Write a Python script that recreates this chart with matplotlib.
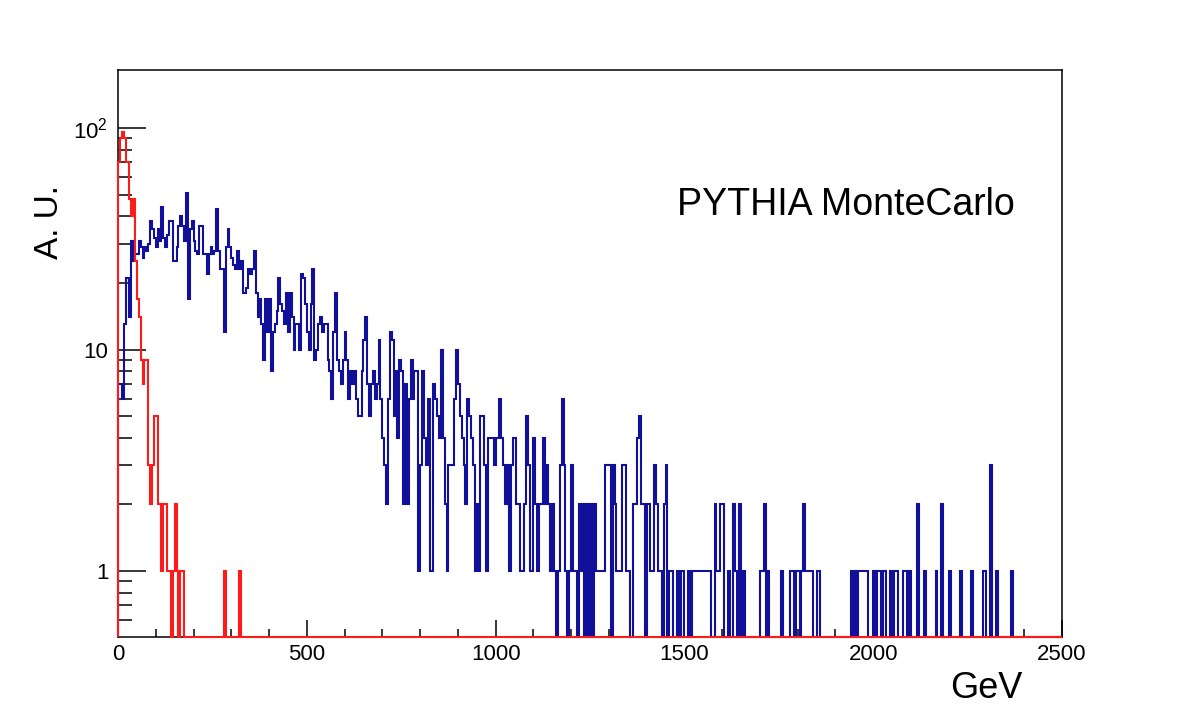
import numpy as np
import matplotlib
matplotlib.use('Agg')
import matplotlib.pyplot as plt
from matplotlib.ticker import FixedLocator, FixedFormatter, NullFormatter

# ROOT 风格: Helvetica 类字体
plt.rcParams['font.family'] = ['Liberation Sans', 'DejaVu Sans']
plt.rcParams['mathtext.fontset'] = 'custom'
plt.rcParams['mathtext.rm'] = 'Liberation Sans'

# 直方图: 0 ~ 2500 GeV, 500 个 bin (每个 5 GeV)
x_min, x_max, n_bins = 0, 2500, 500

# 红色直方图 (从 0 GeV 开始的计数, 之后全为 0)
red_counts = [70, 90, 96, 90, 70, 70, 48, 40, 48, 25,
              17, 14, 9, 7, 9, 9, 3, 2, 3, 5,
              5, 2, 2, 1, 2, 2, 1, 1, 0, 1,
              2, 1, 0, 1, 1, 0, 0, 0, 0, 0,
              0, 0, 0, 0, 0, 0, 0, 0, 0, 0,
              0, 0, 0, 0, 0, 0, 1, 0, 0, 0,
              0, 0, 0, 0, 1]

# 蓝色直方图 (不足 500 个 bin 的部分补 0)
blue_counts = [
    7, 7, 6, 13, 21, 21, 14, 31, 25, 27, 27, 31, 29, 26, 29, 28, 30, 38, 35, 32, 29, 35, 31, 44, 32,
    29, 33, 38, 38, 25, 25, 29, 36, 40, 36, 31, 51, 17, 35, 38, 31, 28, 27, 36, 36, 27, 27, 22, 27, 29,
    27, 28, 43, 28, 23, 23, 12, 29, 35, 29, 26, 24, 23, 28, 23, 25, 18, 18, 19, 23, 22, 23, 28, 18, 14,
    17, 13, 9, 17, 12, 17, 8, 12, 13, 15, 21, 16, 15, 13, 18, 12, 18, 14, 10, 13, 13, 10, 22, 21, 16,
    12, 10, 16, 23, 9, 10, 13, 14, 12, 13, 13, 9, 8, 6, 12, 18, 9, 8, 7, 9, 12, 9, 6, 8, 7,
    8, 6, 5, 5, 8, 11, 14, 7, 5, 7, 8, 6, 7, 11, 6, 4, 3, 2, 6, 12, 11, 5, 8, 4, 9,
    8, 2, 7, 2, 6, 9, 6, 8, 8, 1, 3, 8, 4, 3, 6, 1, 1, 7, 6, 5, 4, 10, 4, 2, 1,
    3, 3, 3, 6, 10, 7, 5, 4, 3, 2, 6, 5, 4, 3, 1, 2, 1, 5, 5, 3, 1, 4, 4, 4, 3,
    4, 4, 6, 4, 3, 2, 3, 1, 3, 4, 4, 2, 2, 1, 1, 2, 5, 3, 1, 1, 4, 2, 1, 2, 2,
    4, 2, 3, 2, 1, 2, 1, 0, 1, 3, 6, 3, 1, 0, 1, 3, 1, 1, 0, 2, 1, 2, 0, 2, 0,
    2, 0, 2, 1, 1, 1, 1, 1, 3, 3, 3, 0, 3, 2, 1, 1, 1, 3, 3, 1, 1, 0, 0, 2, 2,
    4, 5, 2, 2, 0, 2, 2, 1, 1, 3, 2, 1, 1, 0, 2, 3, 0, 1, 1, 0, 0, 1, 0, 1, 1,
    0, 0, 1, 0, 1, 1, 1, 1, 1, 1, 1, 1, 1, 1, 0, 0, 2, 1, 1, 2, 2, 0, 0, 1, 0,
    0, 2, 1, 0, 2, 0, 1, 0, 0, 0, 0, 0, 0, 0, 0, 1, 1, 2, 0, 1, 0, 0, 0, 0, 0,
    0, 1, 0, 0, 0, 0, 1, 1, 0, 1, 1, 0, 1, 2, 1, 1, 1, 1, 0, 0, 1, 1, 0, 0, 0,
    0, 0, 0, 0, 0, 0, 0, 0, 0, 0, 0, 0, 0, 1, 0, 1, 0, 1, 1, 1, 1, 1, 0,
    0, 0, 1, 0, 1, 1, 0, 1, 1, 0, 0, 1, 0, 1, 1, 0, 0, 0, 1, 1, 0, 1, 0,
    0, 0, 2, 0, 0, 0, 1, 0, 0, 0, 0, 0, 1, 0, 0, 2, 0, 0, 0, 1, 0, 0, 0, 0, 0,
    1, 0, 0, 0, 0, 0, 1, 0, 0, 0, 0, 0, 1, 1, 0, 0, 3, 0, 0, 1, 0, 0, 0, 0, 0,
    0, 0, 1,
]

x_ticks = [0, 500, 1000, 1500, 2000, 2500]
x_tick_labels = ['0', '500', '1000', '1500', '2000', '2500']
y_ticks = [1, 10, 100]
y_tick_labels = ['1', '10', r'$\mathregular{10^{2}}$']

y_lo, y_hi = 0.504, 183

fig = plt.figure(figsize=(11.82, 7.09), dpi=100)
ax = fig.add_axes([118 / 1182, 1 - 637 / 709, 944 / 1182, 567 / 709])

edges = np.linspace(x_min, x_max, n_bins + 1)
blue = np.zeros(n_bins)
blue[:len(blue_counts)] = blue_counts
red = np.zeros(n_bins)
red[:len(red_counts)] = red_counts

# 空 bin 画在坐标下沿 (和 ROOT 一样)
blue_draw = np.where(blue > 0, blue, y_lo)
red_draw = np.where(red > 0, red, y_lo)

ax.stairs(blue_draw, edges, baseline=y_lo, color='#10109a', lw=1.5, clip_on=False, zorder=3)
ax.stairs(red_draw, edges, baseline=y_lo, color='#ff1a1a', lw=1.5, clip_on=False, zorder=4)

ax.set_yscale('log')
ax.set_xlim(x_min, x_max)
ax.set_ylim(y_lo, y_hi)

ax.yaxis.set_major_locator(FixedLocator(y_ticks))
ax.yaxis.set_major_formatter(FixedFormatter(y_tick_labels))
y_minor = [0.6, 0.7, 0.8, 0.9] + [i for i in range(2, 10)] + [10 * i for i in range(2, 10)]
ax.yaxis.set_minor_locator(FixedLocator(y_minor))
ax.yaxis.set_minor_formatter(NullFormatter())

ax.xaxis.set_major_locator(FixedLocator(x_ticks))
ax.xaxis.set_major_formatter(FixedFormatter(x_tick_labels))
ax.xaxis.set_minor_locator(FixedLocator(list(range(0, 2501, 100))))

ax.tick_params(which='both', direction='in', top=False, right=False, color='black')
ax.tick_params(axis='y', which='major', length=20, width=1.1, labelsize=16, pad=7)
ax.tick_params(axis='y', which='minor', length=10, width=1.1)
ax.tick_params(axis='x', which='major', length=12, width=1.1, labelsize=16, pad=5)
ax.tick_params(axis='x', which='minor', length=6, width=1.1)
for s in ax.spines.values():
    s.set_linewidth(1.1)
    s.set_zorder(2)

fig.text(1022 / 1182, 1 - 698 / 709, 'GeV', ha='right', va='baseline', fontsize=26)
fig.text(50 / 1182, 1 - 185 / 709, 'A. U.', rotation=90, ha='center', va='top', fontsize=24)
fig.text(677 / 1182, 1 - 205 / 709, 'PYTHIA MonteCarlo', ha='left', va='center', fontsize=27)

fig.savefig('out.png', dpi=100)
